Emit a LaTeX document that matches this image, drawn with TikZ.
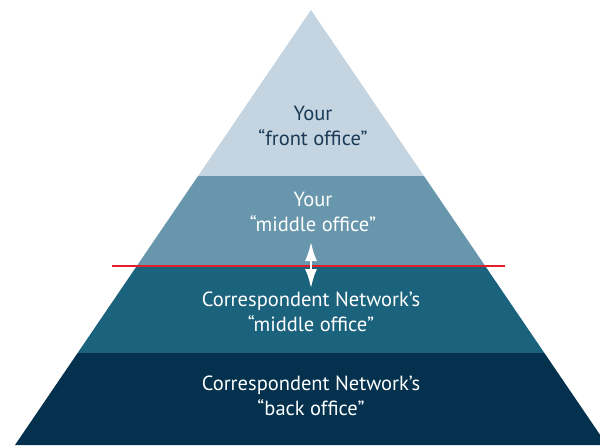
\documentclass[tikz,border=0pt]{standalone}
\usepackage{fontspec}
\setmainfont{PT Sans}
\usepackage{xcolor}
\usetikzlibrary{arrows.meta,calc}

\definecolor{tierA}{RGB}{196,212,225}
\definecolor{tierB}{RGB}{104,150,172}
\definecolor{tierC}{RGB}{27,98,125}
\definecolor{tierD}{RGB}{3,49,78}
\definecolor{inkdark}{RGB}{26,58,86}
\definecolor{cutred}{RGB}{226,30,38}

\begin{document}
\begin{tikzpicture}[x=1pt, y=-1pt, >=Stealth,
    every node/.style={font=\fontsize{20.5}{25}\selectfont, align=center},
    tiertext/.style={text=white},
    splitline/.style={draw=cutred, line width=2.2pt},
    handoff/.style={{Latex[length=19pt,width=12pt]}-{Latex[length=19pt,width=12pt]}, draw=white, fill=white, line width=2pt}]
  \useasboundingbox (0,0) rectangle (600,445);

  % pyramid tiers, cut out of one triangle
  \begin{scope}
    \clip (311,10) -- (15,445) -- (607,445) -- cycle;
    \fill[tierA] (0,0)   rectangle (620,176);
    \fill[tierB] (0,176) rectangle (620,265);
    \fill[tierC] (0,265) rectangle (620,353);
    \fill[tierD] (0,353) rectangle (620,450);
  \end{scope}

  \node[text=inkdark] (front)    at (313,126) {Your\\“front office”};
  \node[tiertext]     (midown)   at (313,212) {Your\\“middle office”};
  \node[tiertext]     (midcorr)  at (311,312) {Correspondent Network’s\\“middle office”};
  \node[tiertext]     (backcorr) at (311,396) {Correspondent Network’s\\“back office”};

  \coordinate (cutL) at (112,266);
  \coordinate (cutR) at (505,266);
  \coordinate (upper) at (311,242);
  \coordinate (lower) at (311,288);

  \draw[splitline] (cutL) -- (cutR);
  \draw[handoff] (upper) -- (lower);
\end{tikzpicture}
\end{document}
